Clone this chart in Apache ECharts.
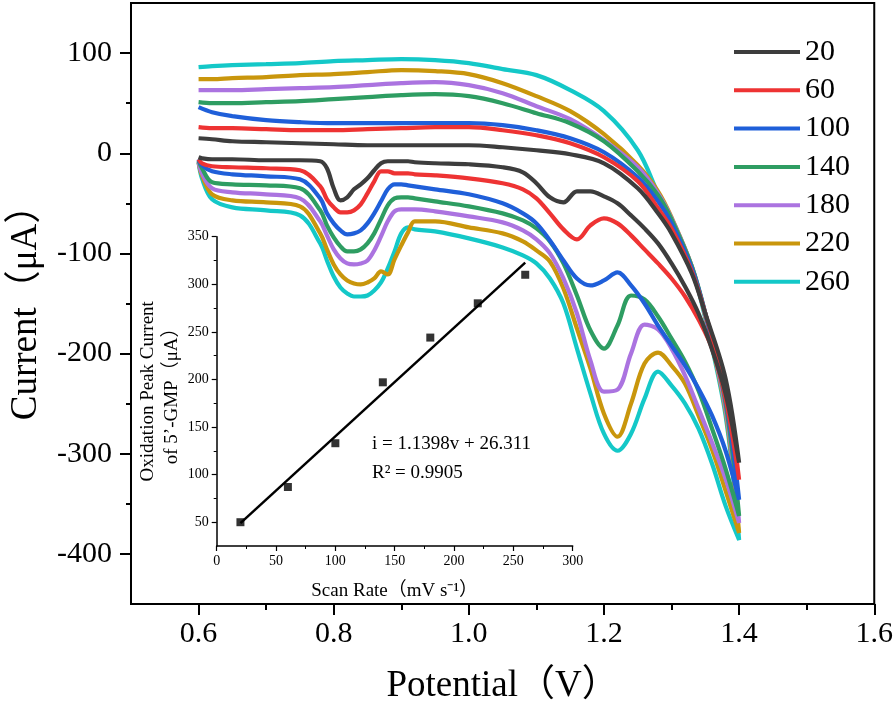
<!DOCTYPE html>
<html><head><meta charset="utf-8">
<script src="https://cdn.jsdelivr.net/npm/echarts@6/dist/echarts.min.js"></script>
<style>html,body{margin:0;padding:0;background:#fff}#c{width:896px;height:710px}</style>
</head><body><div id="c"></div>
<script>
// ---- main CV chart data ----
const scanRates = ['20', '60', '100', '140', '180', '220', '260'];
const seriesColors = ['#3d3d3d', '#ee3333', '#1f5fd9', '#2e9d62', '#ab73e0', '#c9960c', '#14c8c8'];
const forwardPotential = [0.600, 0.605, 0.62, 0.65, 0.70, 0.75, 0.78, 0.79, 0.80, 0.81, 0.82, 0.83, 0.84, 0.85, 0.86, 0.87, 0.88, 0.89, 0.90, 0.91, 0.92, 0.95, 1.00, 1.05, 1.08, 1.10, 1.12, 1.14, 1.16, 1.18, 1.20, 1.22, 1.24, 1.26, 1.28, 1.30, 1.32, 1.34, 1.36, 1.38, 1.40];
const reversePotential = [1.40, 1.38, 1.35, 1.33, 1.30, 1.28, 1.25, 1.20, 1.15, 1.10, 1.05, 1.00, 0.95, 0.90, 0.85, 0.80, 0.75, 0.70, 0.65, 0.62, 0.60];

const fwd20 = [-4, -5, -6, -6, -7, -7, -8, -15, -35, -47, -44, -36, -31, -25, -17, -10, -8, -8, -8, -8, -9, -10, -11, -14, -19, -30, -44, -49, -38, -38, -43, -50, -62, -75, -90, -110, -133, -160, -196, -240, -309];
const rev20 = [-309, -225, -160, -120, -80, -60, -35, -10, -1, 3, 6, 8, 8, 8, 8, 9, 10, 11, 12, 14, 15];
const fwd60 = [-6, -10, -13, -14, -15, -17, -33, -46, -54, -59, -59, -57, -51, -40, -28, -18, -18, -20, -20, -20, -21, -22, -25, -30, -36, -45, -60, -76, -86, -72, -65, -70, -82, -96, -110, -125, -143, -166, -195, -245, -326];
const rev60 = [-326, -235, -160, -118, -75, -55, -28, -4, 10, 18, 23, 26, 26, 25, 24, 23, 23, 24, 25, 25, 26];
const fwd100 = [-6, -12, -18, -21, -23, -26, -45, -60, -70, -77, -81, -80, -77, -70, -60, -48, -36, -31, -31, -32, -33, -36, -41, -50, -60, -70, -87, -107, -125, -132, -127, -119, -132, -150, -172, -192, -212, -235, -262, -297, -346];
const rev100 = [-346, -245, -160, -115, -70, -48, -24, 1, 15, 23, 28, 30, 30, 30, 30, 30, 31, 33, 37, 41, 46];
const fwd140 = [-7, -15, -29, -31, -32, -35, -57, -72, -84, -93, -98, -98, -96, -90, -80, -66, -52, -45, -44, -44, -45, -48, -53, -60, -67, -75, -88, -110, -142, -177, -195, -172, -142, -146, -163, -185, -208, -237, -275, -315, -362];
const rev140 = [-362, -250, -160, -113, -66, -42, -18, 12, 30, 40, 50, 57, 59, 58, 56, 54, 52, 51, 50, 50, 51];
const fwd180 = [-8, -20, -35, -39, -41, -45, -68, -82, -96, -105, -110, -111, -110, -107, -97, -83, -68, -58, -56, -56, -56, -58, -63, -69, -77, -86, -100, -125, -160, -207, -238, -236, -200, -171, -176, -195, -222, -255, -289, -325, -369];
const rev180 = [-369, -255, -162, -113, -65, -40, -14, 13, 34, 47, 60, 68, 71, 70, 68, 66, 65, 64, 63, 63, 63];
const fwd220 = [-9, -22, -41, -47, -49, -53, -80, -96, -111, -121, -127, -130, -131, -129, -125, -118, -121, -106, -92, -79, -68, -68, -74, -80, -88, -97, -108, -135, -175, -215, -260, -283, -250, -210, -199, -212, -230, -262, -296, -337, -379];
const rev220 = [-379, -258, -163, -113, -64, -38, -12, 19, 42, 57, 70, 79, 82, 83, 81, 79, 78, 76, 75, 74, 74];
const fwd260 = [-9, -25, -46, -54, -57, -62, -90, -107, -123, -134, -140, -143, -143, -142, -137, -129, -115, -98, -80, -74, -76, -78, -85, -94, -102, -110, -125, -150, -195, -240, -280, -297, -280, -245, -218, -232, -250, -275, -310, -352, -386];
const rev260 = [-386, -262, -165, -115, -66, -40, 3, 42, 63, 78, 84, 90, 93, 94, 93, 92, 90, 89, 88, 87, 86];

const mainXTicks = [0.6, 0.8, 1.0, 1.2, 1.4, 1.6];
const mainXMinorTicks = [0.7, 0.9, 1.1, 1.3, 1.5];
const mainYTicks = [-400, -300, -200, -100, 0, 100];
const mainYMinorTicks = [-350, -250, -150, -50, 50];

// ---- inset data ----
const insetScanRate = [20, 60, 100, 140, 180, 220, 260];
const insetPeakCurrent = [50, 87, 133, 197, 244, 280, 310];
const fitRate = [20, 260];
const fitCurrent = [49.1, 322.7];
const insetYTicks = [50, 100, 150, 200, 250, 300, 350];
const insetYMinorTicks = [75, 125, 175, 225, 275, 325];

const FONT = "'Liberation Serif', 'Noto Sans CJK SC', serif";
const forwardSets = [fwd20, fwd60, fwd100, fwd140, fwd180, fwd220, fwd260];
const reverseSets = [rev20, rev60, rev100, rev140, rev180, rev220, rev260];

const mainSeries = scanRates.map((name, k) => {
  const pts = forwardPotential.map((v, i) => [v, forwardSets[k][i]])
    .concat(reversePotential.slice(1).map((v, i) => [v, reverseSets[k][i + 1]]));
  return {
    name, type: 'line', xAxisIndex: 0, yAxisIndex: 0, data: pts,
    showSymbol: false, symbol: 'none', smooth: 0.35,
    lineStyle: { width: 4.2, color: seriesColors[k] }, itemStyle: { color: seriesColors[k] },
    z: 2 + (6 - k)
  };
});

const chart = echarts.init(document.getElementById('c'), null, { renderer: 'canvas' });
const black = '#000';
chart.setOption({
  animation: false,
  backgroundColor: '#fff',
  grid: [
    { left: 129, top: 3, right: 20, bottom: 104, show: true, borderColor: black, borderWidth: 2, backgroundColor: 'transparent' },
    { left: 216.7, top: 236.7, width: 356, height: 309.3 }
  ],
  legend: {
    data: scanRates, orient: 'vertical', left: 734, top: 37, padding: 0,
    itemWidth: 66, itemHeight: 4, itemGap: 8.3, icon: 'rect',
    textStyle: { fontSize: 30, fontFamily: FONT, color: black, lineHeight: 30 }
  },
  xAxis: [
    { gridIndex: 0, type: 'value', min: 0.5, max: 1.6, position: 'bottom',
      axisLine: { onZero: false, lineStyle: { color: black, width: 2 } },
      axisTick: { customValues: mainXTicks, length: 11, lineStyle: { color: black, width: 2 } },
      axisLabel: { customValues: mainXTicks, formatter: v => v.toFixed(1), fontSize: 30, fontFamily: FONT, color: black, margin: 15 },
      splitLine: { show: false },
      name: 'Potential（V）', nameLocation: 'middle', nameGap: 64,
      nameTextStyle: { fontSize: 37, fontFamily: FONT, color: black } },
    { gridIndex: 0, type: 'value', min: 0.5, max: 1.6, position: 'bottom',
      axisLine: { show: false, onZero: false },
      axisTick: { customValues: mainXMinorTicks, length: 6, lineStyle: { color: black, width: 2 } },
      axisLabel: { show: false }, splitLine: { show: false } },
    { gridIndex: 1, type: 'value', min: 0, max: 300, interval: 50, position: 'bottom',
      axisLine: { onZero: false, lineStyle: { color: black, width: 1.5 } },
      axisTick: { length: 5, lineStyle: { color: black, width: 1.2 } },
      minorTick: { show: true, splitNumber: 2, length: 3, lineStyle: { color: black, width: 1 } },
      axisLabel: { fontSize: 14, fontFamily: FONT, color: black, margin: 8 },
      splitLine: { show: false },
      name: 'Scan Rate（mV s⁻¹）', nameLocation: 'middle', nameGap: 36,
      nameTextStyle: { fontSize: 19, fontFamily: FONT, color: black } }
  ],
  yAxis: [
    { gridIndex: 0, type: 'value', min: -450, max: 150, position: 'left',
      axisLine: { onZero: false, lineStyle: { color: black, width: 2 } },
      axisTick: { customValues: mainYTicks, length: 11, lineStyle: { color: black, width: 2 } },
      axisLabel: { customValues: mainYTicks, fontSize: 30, fontFamily: FONT, color: black, margin: 19 },
      splitLine: { show: false },
      name: 'Current（μA）', nameLocation: 'middle', nameGap: 86,
      nameTextStyle: { fontSize: 37, fontFamily: FONT, color: black } },
    { gridIndex: 0, type: 'value', min: -450, max: 150, position: 'left',
      axisLine: { show: false, onZero: false },
      axisTick: { customValues: mainYMinorTicks, length: 5, lineStyle: { color: black, width: 2 } },
      axisLabel: { show: false }, splitLine: { show: false } },
    { gridIndex: 1, type: 'value', min: 25, max: 350, position: 'left',
      axisLine: { onZero: false, lineStyle: { color: black, width: 1.5 } },
      axisTick: { customValues: insetYTicks, length: 5, lineStyle: { color: black, width: 1.2 } },
      axisLabel: { customValues: insetYTicks, fontSize: 14, fontFamily: FONT, color: black, margin: 8 },
      splitLine: { show: false },
      name: 'Oxidation Peak Current\nof 5’-GMP（μA）', nameLocation: 'middle', nameGap: 31,
      nameTextStyle: { fontSize: 19, fontFamily: FONT, color: black, lineHeight: 24 } },
    { gridIndex: 1, type: 'value', min: 25, max: 350, position: 'left',
      axisLine: { show: false, onZero: false },
      axisTick: { customValues: insetYMinorTicks, length: 3, lineStyle: { color: black, width: 1 } },
      axisLabel: { show: false }, splitLine: { show: false } }
  ],
  series: mainSeries.concat([
    { type: 'line', xAxisIndex: 2, yAxisIndex: 2, data: fitRate.map((r, i) => [r, fitCurrent[i]]),
      showSymbol: false, symbol: 'none', lineStyle: { color: black, width: 2.5 }, z: 20 },
    { type: 'scatter', xAxisIndex: 2, yAxisIndex: 2, data: insetScanRate.map((r, i) => [r, insetPeakCurrent[i]]),
      symbol: 'rect', symbolSize: 8, itemStyle: { color: black }, z: 21 }
  ]),
  graphic: [
    { type: 'text', left: 372, top: 435, z: 30,
      style: { text: 'i = 1.1398v + 26.311', fontSize: 19, fontFamily: FONT, fill: black } },
    { type: 'text', left: 372, top: 464, z: 30,
      style: { text: 'R² = 0.9905', fontSize: 19, fontFamily: FONT, fill: black } }
  ]
});
</script></body></html>
